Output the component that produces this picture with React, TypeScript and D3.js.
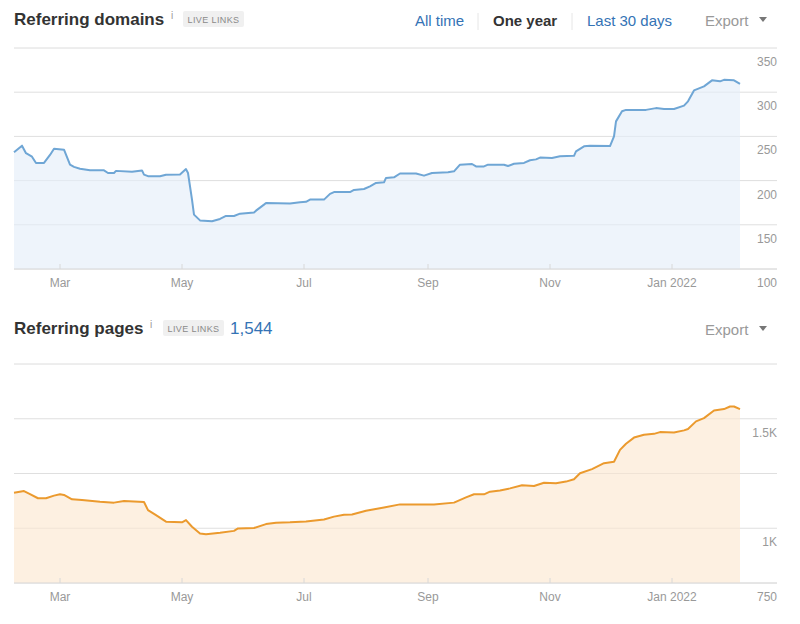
import React, { useEffect, useRef } from "react";
import * as d3 from "d3";

// Referring domains (one year view)
const domainDates = [
	"2021-02-06", "2021-02-10", "2021-02-12", "2021-02-15", "2021-02-17", "2021-02-21", "2021-02-24", "2021-02-26",
	"2021-03-03", "2021-03-06", "2021-03-08", "2021-03-11", "2021-03-16", "2021-03-23", "2021-03-25", "2021-03-28",
	"2021-03-29", "2021-04-06", "2021-04-11", "2021-04-12", "2021-04-14", "2021-04-20", "2021-04-23", "2021-04-30",
	"2021-05-03", "2021-05-04", "2021-05-06", "2021-05-07", "2021-05-10", "2021-05-16", "2021-05-20", "2021-05-23",
	"2021-05-27", "2021-05-30", "2021-06-06", "2021-06-07", "2021-06-11", "2021-06-12", "2021-06-24", "2021-06-29",
	"2021-07-02", "2021-07-04", "2021-07-11", "2021-07-14", "2021-07-16", "2021-07-24", "2021-07-26", "2021-07-31",
	"2021-08-03", "2021-08-06", "2021-08-10", "2021-08-11", "2021-08-15", "2021-08-18", "2021-08-26", "2021-08-30",
	"2021-09-03", "2021-09-11", "2021-09-14", "2021-09-17", "2021-09-23", "2021-09-25", "2021-09-29", "2021-10-01",
	"2021-10-09", "2021-10-11", "2021-10-14", "2021-10-19", "2021-10-22", "2021-10-25", "2021-10-27", "2021-11-02",
	"2021-11-06", "2021-11-13", "2021-11-14", "2021-11-18", "2021-11-21", "2021-12-01", "2021-12-03", "2021-12-04",
	"2021-12-07", "2021-12-09", "2021-12-19", "2021-12-24", "2021-12-28", "2022-01-02", "2022-01-07", "2022-01-09",
	"2022-01-12", "2022-01-17", "2022-01-21", "2022-01-25", "2022-01-27", "2022-02-01", "2022-02-04",
];
const domainValues = [
	232, 239.5, 231, 227, 220, 220, 229, 236,
	235, 218, 215.5, 213.5, 211.6, 211.6, 208.6, 208.6,
	211, 210, 211.5, 206.7, 205, 205, 206.7, 207,
	213, 208.6, 178.5, 161.5, 155, 154, 156.6, 160,
	160, 162.6, 164, 166, 172.8, 174.6, 174, 175.5,
	176, 178.5, 178.5, 185, 187, 187, 189.4, 190.5,
	193.5, 197.3, 198, 203, 203.7, 208, 208, 205.6,
	208.6, 209.4, 210.5, 218, 218.8, 216, 216, 218,
	218, 216.5, 219, 220, 223, 224, 226, 225.6,
	227.5, 228, 233, 238.8, 239.5, 239, 250, 267,
	278.4, 280, 280, 282, 281, 281, 284.8, 289.7,
	302, 306.6, 313.4, 312.3, 314, 313.4, 309.3,
];

// Referring pages
const pageDates = [
	"2021-02-06", "2021-02-11", "2021-02-14", "2021-02-18", "2021-02-22", "2021-02-26", "2021-03-01", "2021-03-03",
	"2021-03-07", "2021-03-12", "2021-03-21", "2021-03-28", "2021-04-02", "2021-04-12", "2021-04-14", "2021-04-18",
	"2021-04-23", "2021-05-01", "2021-05-03", "2021-05-06", "2021-05-10", "2021-05-13", "2021-05-20", "2021-05-27",
	"2021-05-29", "2021-06-06", "2021-06-12", "2021-06-17", "2021-06-24", "2021-07-02", "2021-07-11", "2021-07-16",
	"2021-07-21", "2021-07-25", "2021-08-01", "2021-08-10", "2021-08-18", "2021-08-26", "2021-09-04", "2021-09-14",
	"2021-09-20", "2021-09-24", "2021-09-29", "2021-10-02", "2021-10-07", "2021-10-12", "2021-10-18", "2021-10-24",
	"2021-10-29", "2021-11-04", "2021-11-09", "2021-11-13", "2021-11-16", "2021-11-22", "2021-11-28", "2021-12-03",
	"2021-12-06", "2021-12-09", "2021-12-13", "2021-12-18", "2021-12-23", "2021-12-26", "2022-01-02", "2022-01-07",
	"2022-01-09", "2022-01-13", "2022-01-17", "2022-01-22", "2022-01-27", "2022-01-30", "2022-02-01", "2022-02-04",
];
const pageValues = [
	1162, 1170, 1156, 1137, 1137, 1149, 1155, 1152,
	1132, 1129, 1121, 1117, 1124, 1120, 1083, 1060,
	1030, 1027, 1037, 1007, 976, 973, 979, 988,
	999, 1001, 1019, 1025, 1027, 1031, 1040, 1053,
	1062, 1063, 1080, 1095, 1109, 1109, 1109, 1117,
	1141, 1155, 1155, 1167, 1172, 1182, 1196, 1193,
	1208, 1205, 1213, 1224, 1251, 1270, 1297, 1304,
	1358, 1386, 1414, 1427, 1431, 1439, 1437, 1447,
	1453, 1488, 1503, 1538, 1544, 1556, 1556, 1544,
];

const monthTicks = ["2021-03-01", "2021-05-01", "2021-07-01", "2021-09-01", "2021-11-01", "2022-01-01"];
const monthLabels = ["Mar", "May", "Jul", "Sep", "Nov", "Jan 2022"];

const domainTicks = [100, 150, 200, 250, 300, 350];
const domainTickLabels = ["100", "150", "200", "250", "300", "350"];
const pageGridTicks = [750, 1000, 1250, 1500, 1750];
const pageTickValues = [750, 1000, 1500];
const pageTickLabels = ["750", "1K", "1.5K"];

const parseDate = d3.timeParse("%Y-%m-%d");
const FONT = "'Liberation Sans', Arial, sans-serif";

const drawPanel = (svg, opts) => {
	const { dates, values, x, y, grid, tickValues, tickLabels, stroke, fill, left, right } = opts;
	const data = dates.map((d, i) => ({ date: parseDate(d), value: values[i] }));
	const [bottom] = y.range();
	const g = svg.append("g");

	g.selectAll(".grid")
		.data(grid)
		.enter()
		.append("line")
		.attr("x1", left)
		.attr("x2", right)
		.attr("y1", (d) => y(d))
		.attr("y2", (d) => y(d))
		.attr("stroke", (d, i) => (i === 0 ? "#dcdcdc" : "#ebebeb"))
		.attr("stroke-width", 1);

	const area = d3
		.area()
		.x((d) => x(d.date))
		.y0(bottom)
		.y1((d) => y(d.value));

	g.append("path").datum(data).attr("d", area).attr("fill", fill);

	// grid again over the fill so it shows through faintly
	g.selectAll(".grid2")
		.data(grid.slice(1))
		.enter()
		.append("line")
		.attr("x1", left)
		.attr("x2", right)
		.attr("y1", (d) => y(d))
		.attr("y2", (d) => y(d))
		.attr("stroke", "#000")
		.attr("stroke-opacity", 0.05);

	g.append("line")
		.attr("x1", left)
		.attr("x2", right)
		.attr("y1", bottom)
		.attr("y2", bottom)
		.attr("stroke", "#dcdcdc");

	const line = d3
		.line()
		.x((d) => x(d.date))
		.y((d) => y(d.value));

	g.append("path")
		.datum(data)
		.attr("d", line)
		.attr("fill", "none")
		.attr("stroke", stroke)
		.attr("stroke-width", 2)
		.attr("stroke-linejoin", "round");

	// month ticks + labels
	const months = monthTicks.map(parseDate);
	g.selectAll(".tick")
		.data(months)
		.enter()
		.append("line")
		.attr("x1", (d) => x(d))
		.attr("x2", (d) => x(d))
		.attr("y1", bottom - 5)
		.attr("y2", bottom)
		.attr("stroke", "#d8d8d8");

	g.selectAll(".xlabel")
		.data(months)
		.enter()
		.append("text")
		.attr("x", (d) => x(d))
		.attr("y", bottom + 18)
		.attr("text-anchor", "middle")
		.attr("font-family", FONT)
		.attr("font-size", 12)
		.attr("fill", "#999")
		.text((d, i) => monthLabels[i]);

	g.selectAll(".ylabel")
		.data(tickValues)
		.enter()
		.append("text")
		.attr("x", right)
		.attr("y", (d) => y(d) + 18)
		.attr("text-anchor", "end")
		.attr("font-family", FONT)
		.attr("font-size", 12)
		.attr("fill", "#999")
		.text((d, i) => tickLabels[i]);
};

const drawHeader = (svg, opts) => {
	const { title, infoX, badgeX, top, extra } = opts;
	const g = svg.append("g").attr("font-family", FONT);
	g.append("text")
		.attr("x", 14)
		.attr("y", top)
		.attr("font-size", 17)
		.attr("font-weight", "bold")
		.attr("fill", "#333")
		.text(title);
	g.append("text")
		.attr("x", infoX)
		.attr("y", top - 6)
		.attr("font-size", 10)
		.attr("fill", "#999")
		.text("i");
	g.append("rect")
		.attr("x", badgeX)
		.attr("y", top - 14)
		.attr("width", 61)
		.attr("height", 16)
		.attr("rx", 2)
		.attr("fill", "#f0f0f0");
	g.append("text")
		.attr("x", badgeX + 30.5)
		.attr("y", top - 2.5)
		.attr("text-anchor", "middle")
		.attr("font-size", 9)
		.attr("letter-spacing", 0.4)
		.attr("fill", "#8a8a8a")
		.text("LIVE LINKS");
	if (extra) {
		g.append("text")
			.attr("x", badgeX + 67)
			.attr("y", top)
			.attr("font-size", 17)
			.attr("fill", "#3473b5")
			.text(extra);
	}
	g.append("text")
		.attr("x", 705)
		.attr("y", top + 1)
		.attr("font-size", 15)
		.attr("fill", "#999")
		.text("Export");
	g.append("path")
		.attr("d", `M759,${top - 8}L767,${top - 8}L763,${top - 3}Z`)
		.attr("fill", "#777");
};

const App = () => {
	const svgRef = useRef(null);

	useEffect(() => {
		const svg = d3.select(svgRef.current);
		svg.selectAll("*").remove();

		const left = 14;
		const right = 777;
		const dataEnd = 740;

		const x = d3
			.scaleTime()
			.domain([parseDate("2021-02-06"), parseDate("2022-02-04")])
			.range([left, dataEnd]);

		const yDomains = d3.scaleLinear().domain([100, 350]).range([269, 48]);
		const yPages = d3.scaleLinear().domain([750, 1750]).range([583, 364]);

		drawHeader(svg, { title: "Referring domains", infoX: 171, badgeX: 183, top: 25 });

		// period switcher
		const nav = svg.append("g").attr("font-family", FONT).attr("font-size", 15);
		nav.append("text").attr("x", 415).attr("y", 26).attr("fill", "#3473b5").text("All time");
		nav.append("line").attr("x1", 478).attr("x2", 478).attr("y1", 13).attr("y2", 30).attr("stroke", "#e6e6e6");
		nav.append("text").attr("x", 493).attr("y", 26).attr("fill", "#333").attr("font-weight", "bold").text("One year");
		nav.append("line").attr("x1", 572).attr("x2", 572).attr("y1", 13).attr("y2", 30).attr("stroke", "#e6e6e6");
		nav.append("text").attr("x", 587).attr("y", 26).attr("fill", "#3473b5").text("Last 30 days");

		drawPanel(svg, {
			dates: domainDates,
			values: domainValues,
			x,
			y: yDomains,
			grid: domainTicks.slice().reverse(),
			tickValues: domainTicks,
			tickLabels: domainTickLabels,
			stroke: "#6fa6d5",
			fill: "#eef4fb",
			left,
			right,
		});

		drawHeader(svg, { title: "Referring pages", infoX: 150, badgeX: 163, top: 334, extra: "1,544" });

		drawPanel(svg, {
			dates: pageDates,
			values: pageValues,
			x,
			y: yPages,
			grid: pageGridTicks.slice().reverse(),
			tickValues: pageTickValues,
			tickLabels: pageTickLabels,
			stroke: "#eb9a2e",
			fill: "#fdf0e1",
			left,
			right,
		});
	}, []);

	return (
		<svg
			ref={svgRef}
			width={800}
			height={624}
			style={{ position: "absolute", left: 0, top: 0, background: "#fff" }}
		></svg>
	);
};

export default App;
